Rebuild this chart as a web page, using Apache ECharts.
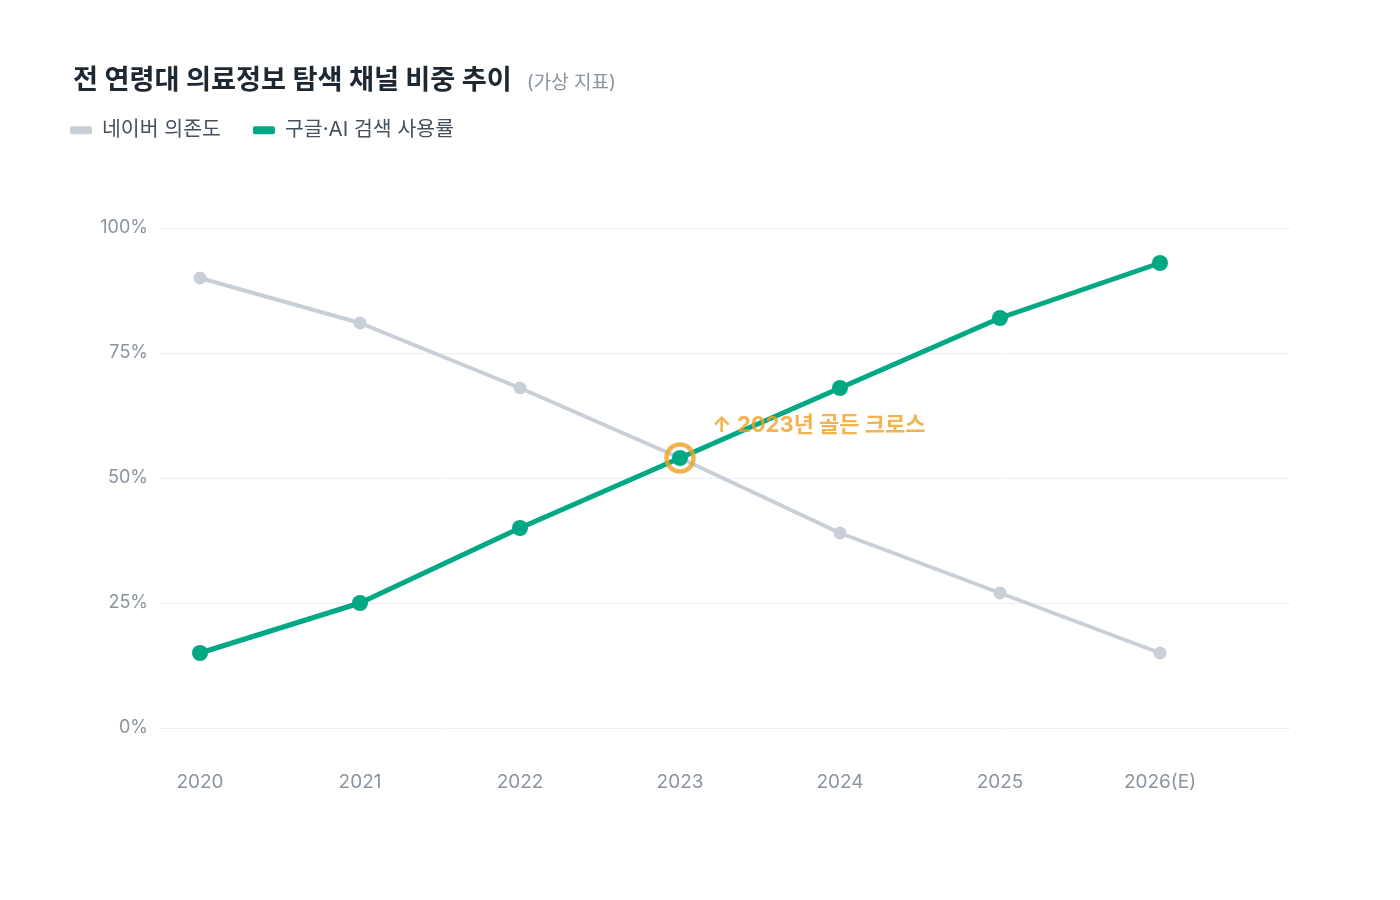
<!DOCTYPE html>
<html>
<head>
<meta charset="utf-8">
<script src="https://cdn.jsdelivr.net/npm/echarts@6/dist/echarts.min.js"></script>
<style>
html,body{margin:0;padding:0;background:#fff;}
#c{width:1400px;height:900px;}
</style>
</head>
<body>
<div id="c"></div>
<script>
const years = ['2020', '2021', '2022', '2023', '2024', '2025', '2026(E)'];
const naver = [90, 81, 68, 54, 39, 27, 15];
const google = [15, 25, 40, 54, 68, 82, 93];
const crossIndex = 3;
const crossValue = 54;

const FONT = "Inter, 'Noto Sans CJK KR', 'Noto Sans', sans-serif";
const chart = echarts.init(document.getElementById('c'), null, {renderer: 'canvas'});

const toPairs = arr => arr.map((v, i) => [i, v]);

chart.setOption({
  backgroundColor: '#ffffff',
  animation: false,
  textStyle: {fontFamily: FONT},
  title: {
    left: 68, top: 62,
    text: '{a|전 연령대 의료정보 탐색 채널 비중 추이}{b|(가상 지표)}',
    textStyle: {
      rich: {
        a: {fontSize: 27.2, fontWeight: 'bold', color: '#1e2833', fontFamily: FONT},
        b: {fontSize: 19, fontWeight: 'normal', color: '#8b949e', fontFamily: FONT, padding: [5, 0, 0, 15]}
      }
    }
  },
  legend: {
    left: 65, top: 115,
    itemWidth: 22, itemHeight: 8, itemGap: 32,
    icon: 'roundRect',
    textStyle: {fontSize: 20.5, color: '#47515c', fontFamily: FONT, padding: [0, 0, 0, 5]},
    data: [
      {name: '네이버 의존도', itemStyle: {color: '#c8cfd6'}},
      {name: '구글·AI 검색 사용률', itemStyle: {color: '#00a884'}}
    ]
  },
  grid: {left: 160, right: 110, top: 228, bottom: 172, containLabel: false},
  xAxis: {
    type: 'value',
    min: -0.25, max: 6.8125,
    splitLine: {show: false},
    axisLine: {show: false},
    axisTick: {show: false},
    axisLabel: {
      customValues: years.map((y, i) => i),
      formatter: v => years[Math.round(v)] || '',
      color: '#8b949e', fontSize: 19, margin: 45, fontFamily: FONT
    }
  },
  yAxis: {
    type: 'value',
    min: 0, max: 100, interval: 25,
    axisLine: {show: false},
    axisTick: {show: false},
    splitLine: {lineStyle: {color: '#eceff2', width: 1}},
    axisLabel: {formatter: '{value}%', color: '#8b949e', fontSize: 18, margin: 12, padding: [3, 0, 0, 0], fontFamily: FONT}
  },
  series: [
    {
      name: '네이버 의존도',
      type: 'line',
      data: toPairs(naver),
      symbol: 'circle', symbolSize: 13,
      lineStyle: {color: '#c8cfd6', width: 4},
      itemStyle: {color: '#c8cfd6'},
      z: 2
    },
    {
      name: '구글·AI 검색 사용률',
      type: 'line',
      data: toPairs(google),
      symbol: 'circle', symbolSize: 16,
      lineStyle: {color: '#00a884', width: 5},
      itemStyle: {color: '#00a884'},
      z: 3
    },
    {
      name: 'cross',
      type: 'scatter',
      data: [[crossIndex, crossValue]],
      symbol: 'circle', symbolSize: 27,
      itemStyle: {color: 'rgba(0,0,0,0)', borderColor: '#eda125', borderWidth: 4.5},
      label: {
        show: true,
        position: 'right',
        distance: 16,
        offset: [0, -33],
        formatter: '↑ 2023년 골든 크로스',
        color: '#eda125', fontSize: 22, fontWeight: 'bold', fontFamily: FONT
      },
      z: 4
    }
  ]
});
</script>
</body>
</html>
